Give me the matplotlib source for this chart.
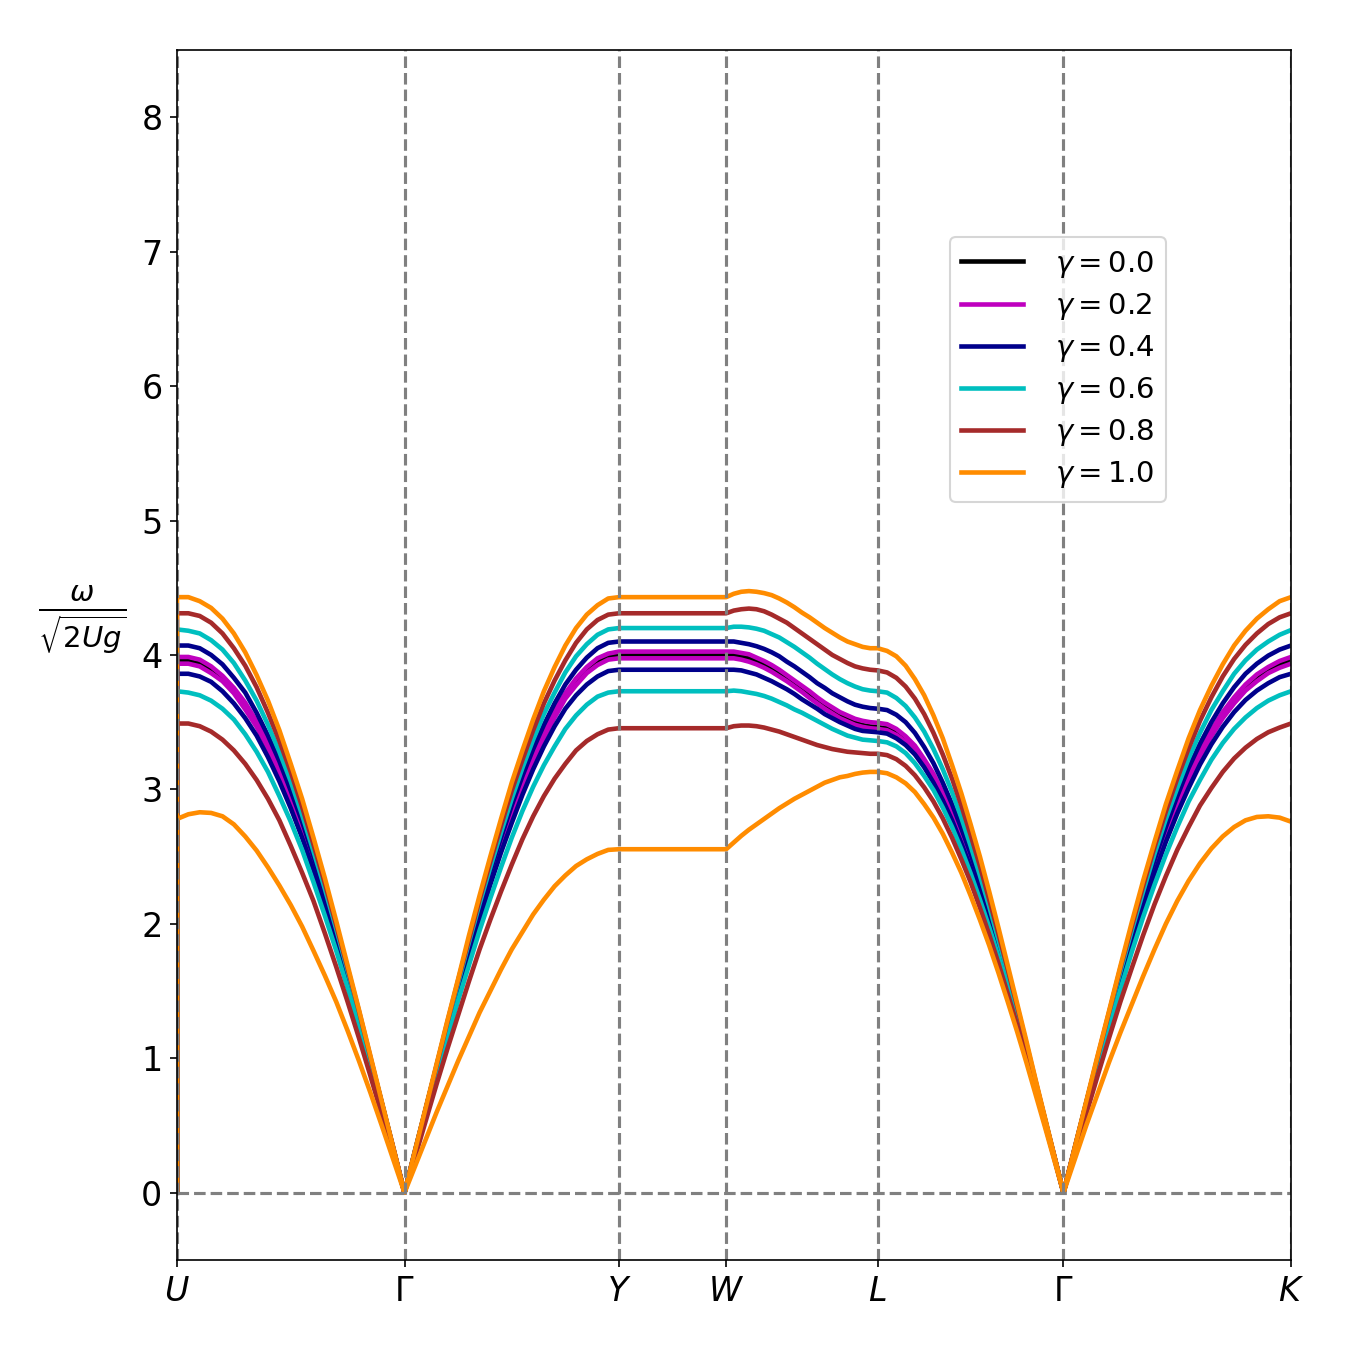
import matplotlib
matplotlib.use('Agg')
from matplotlib import pyplot as plt
import numpy as np

# high-symmetry points and segment lengths along the k-path (2pi/a units)
point_labels = [r'$U$', r'$\Gamma$', r'$Y$', r'$W$', r'$L$', r'$\Gamma$', r'$K$']
seg_lengths = [1.061, 1.000, 0.500, 0.707, 0.866, 1.061]
t = [0.00, 0.05, 0.10, 0.15, 0.20, 0.25, 0.30, 0.35, 0.40, 0.45, 0.50,
     0.55, 0.60, 0.65, 0.70, 0.75, 0.80, 0.85, 0.90, 0.95, 1.00]

gammas = ['0.0', '0.2', '0.4', '0.6', '0.8', '1.0']
colors = ['k', 'm', 'darkblue', 'c', 'brown', 'darkorange']

# values, order per curve:
# [start] + U-G(21) + G-Y(20) + W(1) + W-L(20) + L-G(20) + G-K(20)
w00 = [0.0,
       3.957, 3.955, 3.934, 3.890, 3.823, 3.733, 3.620, 3.482, 3.321, 3.137, 2.930,
       2.703, 2.456, 2.191, 1.909, 1.614, 1.306, 0.988, 0.663, 0.333, 0.0,
       0.314, 0.626, 0.934, 1.236, 1.531, 1.816, 2.090, 2.351, 2.598, 2.828,
       3.042, 3.236, 3.411, 3.564, 3.696, 3.804, 3.889, 3.951, 3.988, 4.000,
       4.000,
       3.997, 3.988, 3.973, 3.952, 3.926, 3.896, 3.861, 3.823, 3.783, 3.742,
       3.700, 3.658, 3.618, 3.581, 3.548, 3.519, 3.495, 3.478, 3.468, 3.464,
       3.453, 3.421, 3.368, 3.295, 3.200, 3.086, 2.954, 2.802, 2.634, 2.449,
       2.250, 2.036, 1.810, 1.573, 1.326, 1.070, 0.809, 0.542, 0.272, 0.0,
       0.333, 0.663, 0.987, 1.302, 1.607, 1.898, 2.174, 2.432, 2.672, 2.890,
       3.088, 3.264, 3.418, 3.550, 3.662, 3.754, 3.827, 3.884, 3.927, 3.957]

w02_up = [0.0,
          3.985, 3.985, 3.965, 3.915, 3.845, 3.755, 3.645, 3.505, 3.345, 3.155, 2.945,
          2.71, 2.47, 2.20, 1.91, 1.62, 1.31, 0.99, 0.66, 0.33, 0.0,
          0.31, 0.63, 0.94, 1.24, 1.53, 1.82, 2.10, 2.36, 2.61, 2.84,
          3.05, 3.255, 3.425, 3.585, 3.715, 3.825, 3.91, 3.975, 4.01, 4.025,
          4.025,
          4.025, 4.015, 4.005, 3.98, 3.955, 3.925, 3.89, 3.85, 3.81, 3.77,
          3.73, 3.685, 3.645, 3.61, 3.575, 3.55, 3.525, 3.51, 3.50, 3.495,
          3.485, 3.45, 3.395, 3.325, 3.225, 3.115, 2.975, 2.82, 2.65, 2.46,
          2.26, 2.045, 1.82, 1.58, 1.33, 1.07, 0.81, 0.54, 0.27, 0.0,
          0.33, 0.66, 0.99, 1.30, 1.61, 1.90, 2.18, 2.44, 2.68, 2.90,
          3.10, 3.285, 3.44, 3.575, 3.685, 3.78, 3.855, 3.91, 3.955, 3.985]
w02_lo = [0.0,
          3.935, 3.935, 3.915, 3.865, 3.805, 3.715, 3.595, 3.465, 3.305, 3.115, 2.915,
          2.69, 2.44, 2.18, 1.90, 1.61, 1.30, 0.98, 0.66, 0.33, 0.0,
          0.31, 0.62, 0.93, 1.23, 1.52, 1.81, 2.08, 2.34, 2.58, 2.81,
          3.03, 3.215, 3.385, 3.535, 3.675, 3.775, 3.865, 3.925, 3.965, 3.975,
          3.975,
          3.975, 3.965, 3.95, 3.93, 3.905, 3.875, 3.84, 3.805, 3.765, 3.725,
          3.68, 3.64, 3.60, 3.565, 3.53, 3.505, 3.48, 3.465, 3.455, 3.45,
          3.44, 3.405, 3.355, 3.28, 3.185, 3.075, 2.94, 2.795, 2.63, 2.44,
          2.245, 2.03, 1.805, 1.57, 1.32, 1.07, 0.81, 0.54, 0.27, 0.0,
          0.33, 0.66, 0.98, 1.30, 1.60, 1.89, 2.165, 2.42, 2.66, 2.88,
          3.075, 3.245, 3.395, 3.53, 3.64, 3.735, 3.805, 3.865, 3.905, 3.935]

w04_up = [0.0,
          4.07, 4.07, 4.05, 4.00, 3.93, 3.83, 3.72, 3.57, 3.40, 3.21, 2.99,
          2.76, 2.50, 2.23, 1.94, 1.63, 1.32, 0.995, 0.67, 0.33, 0.0,
          0.31, 0.63, 0.94, 1.25, 1.55, 1.84, 2.12, 2.39, 2.64, 2.88,
          3.10, 3.30, 3.48, 3.64, 3.78, 3.89, 3.98, 4.05, 4.09, 4.10,
          4.10,
          4.10, 4.09, 4.08, 4.065, 4.045, 4.02, 3.99, 3.95, 3.915, 3.875,
          3.835, 3.79, 3.755, 3.715, 3.685, 3.655, 3.63, 3.615, 3.605, 3.60,
          3.59, 3.555, 3.50, 3.42, 3.315, 3.195, 3.05, 2.89, 2.71, 2.52,
          2.31, 2.08, 1.85, 1.60, 1.345, 1.08, 0.82, 0.545, 0.27, 0.0,
          0.33, 0.67, 0.99, 1.31, 1.63, 1.92, 2.21, 2.475, 2.72, 2.95,
          3.16, 3.34, 3.50, 3.64, 3.76, 3.86, 3.935, 3.995, 4.04, 4.07]
w04_lo = [0.0,
          3.86, 3.86, 3.84, 3.80, 3.73, 3.64, 3.53, 3.40, 3.24, 3.06, 2.86,
          2.64, 2.40, 2.14, 1.86, 1.58, 1.27, 0.96, 0.65, 0.32, 0.0,
          0.31, 0.61, 0.91, 1.20, 1.49, 1.77, 2.03, 2.29, 2.53, 2.75,
          2.96, 3.15, 3.32, 3.47, 3.60, 3.70, 3.78, 3.84, 3.88, 3.89,
          3.89,
          3.89, 3.885, 3.87, 3.855, 3.83, 3.805, 3.775, 3.745, 3.71, 3.67,
          3.635, 3.60, 3.56, 3.53, 3.50, 3.475, 3.45, 3.435, 3.43, 3.425,
          3.415, 3.38, 3.33, 3.26, 3.165, 3.05, 2.92, 2.77, 2.60, 2.42,
          2.225, 2.01, 1.79, 1.555, 1.31, 1.06, 0.80, 0.535, 0.27, 0.0,
          0.325, 0.65, 0.96, 1.27, 1.57, 1.85, 2.12, 2.375, 2.61, 2.82,
          3.01, 3.185, 3.335, 3.465, 3.575, 3.665, 3.735, 3.79, 3.835, 3.86]

w06_up = [0.0,
          4.19, 4.18, 4.16, 4.11, 4.04, 3.94, 3.81, 3.66, 3.48, 3.28, 3.06,
          2.81, 2.54, 2.26, 1.96, 1.65, 1.33, 1.00, 0.67, 0.335, 0.0,
          0.32, 0.63, 0.95, 1.26, 1.56, 1.86, 2.15, 2.42, 2.68, 2.93,
          3.16, 3.37, 3.56, 3.72, 3.87, 3.99, 4.08, 4.15, 4.19, 4.20,
          4.20,
          4.21, 4.21, 4.205, 4.195, 4.18, 4.155, 4.13, 4.095, 4.06, 4.02,
          3.98, 3.935, 3.895, 3.855, 3.82, 3.79, 3.765, 3.745, 3.735, 3.73,
          3.72, 3.68, 3.62, 3.535, 3.43, 3.30, 3.15, 2.98, 2.79, 2.58,
          2.36, 2.13, 1.88, 1.63, 1.365, 1.095, 0.82, 0.55, 0.27, 0.0,
          0.335, 0.67, 1.00, 1.33, 1.645, 1.95, 2.24, 2.52, 2.78, 3.01,
          3.23, 3.42, 3.59, 3.73, 3.86, 3.96, 4.04, 4.10, 4.15, 4.185]
w06_lo = [0.0,
          3.73, 3.72, 3.70, 3.66, 3.60, 3.52, 3.41, 3.28, 3.13, 2.95, 2.76,
          2.55, 2.31, 2.06, 1.80, 1.52, 1.23, 0.93, 0.62, 0.31, 0.0,
          0.29, 0.58, 0.87, 1.15, 1.43, 1.69, 1.95, 2.19, 2.42, 2.64,
          2.84, 3.02, 3.18, 3.32, 3.45, 3.55, 3.63, 3.69, 3.72, 3.73,
          3.73,
          3.735, 3.73, 3.72, 3.71, 3.695, 3.675, 3.65, 3.625, 3.595, 3.57,
          3.54, 3.51, 3.48, 3.45, 3.425, 3.40, 3.385, 3.37, 3.365, 3.36,
          3.35, 3.32, 3.27, 3.195, 3.10, 2.995, 2.865, 2.72, 2.555, 2.375,
          2.18, 1.975, 1.755, 1.525, 1.285, 1.04, 0.785, 0.525, 0.265, 0.0,
          0.31, 0.62, 0.93, 1.23, 1.51, 1.79, 2.05, 2.29, 2.515, 2.72,
          2.91, 3.07, 3.22, 3.345, 3.45, 3.535, 3.605, 3.66, 3.70, 3.73]

w08_up = [0.0,
          4.31, 4.31, 4.29, 4.24, 4.16, 4.05, 3.92, 3.76, 3.57, 3.36, 3.13,
          2.87, 2.59, 2.30, 1.99, 1.67, 1.35, 1.01, 0.67, 0.34, 0.0,
          0.32, 0.63, 0.95, 1.27, 1.58, 1.88, 2.18, 2.46, 2.73, 2.99,
          3.22, 3.44, 3.64, 3.81, 3.96, 4.09, 4.19, 4.26, 4.30, 4.31,
          4.31,
          4.33, 4.34, 4.345, 4.34, 4.325, 4.30, 4.27, 4.24, 4.20, 4.16,
          4.12, 4.08, 4.04, 4.00, 3.97, 3.94, 3.915, 3.90, 3.89, 3.885,
          3.87, 3.83, 3.765, 3.675, 3.56, 3.42, 3.26, 3.08, 2.88, 2.66,
          2.43, 2.18, 1.925, 1.66, 1.39, 1.11, 0.83, 0.55, 0.275, 0.0,
          0.34, 0.67, 1.01, 1.34, 1.67, 1.98, 2.28, 2.57, 2.835, 3.08,
          3.305, 3.51, 3.685, 3.84, 3.97, 4.075, 4.16, 4.23, 4.28, 4.31]
w08_lo = [0.0,
          3.49, 3.49, 3.47, 3.43, 3.37, 3.29, 3.19, 3.07, 2.93, 2.77, 2.58,
          2.38, 2.17, 1.93, 1.68, 1.42, 1.15, 0.87, 0.58, 0.29, 0.0,
          0.27, 0.54, 0.81, 1.07, 1.32, 1.57, 1.81, 2.03, 2.24, 2.44,
          2.63, 2.80, 2.95, 3.08, 3.19, 3.29, 3.36, 3.41, 3.445, 3.455,
          3.455,
          3.47, 3.475, 3.475, 3.47, 3.46, 3.445, 3.43, 3.41, 3.39, 3.37,
          3.35, 3.33, 3.315, 3.30, 3.29, 3.28, 3.275, 3.27, 3.265, 3.265,
          3.255, 3.225, 3.175, 3.105, 3.015, 2.91, 2.785, 2.64, 2.48, 2.31,
          2.12, 1.92, 1.705, 1.48, 1.25, 1.01, 0.76, 0.51, 0.255, 0.0,
          0.29, 0.585, 0.87, 1.15, 1.42, 1.67, 1.915, 2.145, 2.355, 2.55,
          2.72, 2.88, 3.01, 3.13, 3.23, 3.31, 3.375, 3.425, 3.46, 3.49]

w10_up = [0.0,
          4.43, 4.43, 4.40, 4.35, 4.27, 4.16, 4.02, 3.85, 3.66, 3.44, 3.19,
          2.93, 2.64, 2.34, 2.02, 1.69, 1.36, 1.02, 0.68, 0.34, 0.0,
          0.32, 0.64, 0.96, 1.28, 1.59, 1.91, 2.21, 2.50, 2.78, 3.05,
          3.29, 3.52, 3.73, 3.91, 4.07, 4.20, 4.30, 4.37, 4.42, 4.43,
          4.43,
          4.455, 4.47, 4.475, 4.47, 4.46, 4.445, 4.42, 4.39, 4.355, 4.315,
          4.28, 4.24, 4.20, 4.165, 4.13, 4.10, 4.08, 4.06, 4.05, 4.05,
          4.03, 3.99, 3.92, 3.82, 3.70, 3.55, 3.38, 3.18, 2.97, 2.74,
          2.50, 2.24, 1.97, 1.69, 1.41, 1.13, 0.84, 0.56, 0.28, 0.0,
          0.34, 0.68, 1.02, 1.35, 1.685, 2.01, 2.32, 2.61, 2.89, 3.14,
          3.38, 3.59, 3.77, 3.93, 4.07, 4.18, 4.27, 4.34, 4.40, 4.43]
w10_lo = [0.0,
          2.78, 2.815, 2.83, 2.825, 2.80, 2.74, 2.65, 2.545, 2.42, 2.285, 2.14,
          1.98, 1.80, 1.615, 1.42, 1.205, 0.98, 0.745, 0.50, 0.25, 0.0,
          0.20, 0.40, 0.60, 0.79, 0.98, 1.16, 1.34, 1.50, 1.66, 1.81,
          1.94, 2.07, 2.18, 2.28, 2.36, 2.43, 2.48, 2.52, 2.55, 2.555,
          2.555,
          2.605, 2.655, 2.70, 2.74, 2.78, 2.82, 2.86, 2.895, 2.93, 2.96,
          2.99, 3.02, 3.05, 3.07, 3.09, 3.10, 3.115, 3.125, 3.13, 3.13,
          3.12, 3.09, 3.045, 2.98, 2.89, 2.79, 2.67, 2.53, 2.38, 2.21,
          2.03, 1.84, 1.635, 1.42, 1.20, 0.97, 0.73, 0.49, 0.245, 0.0,
          0.25, 0.50, 0.735, 0.97, 1.19, 1.40, 1.61, 1.81, 2.00, 2.17,
          2.32, 2.45, 2.56, 2.65, 2.72, 2.77, 2.795, 2.80, 2.79, 2.76]

branches = [[w00], [w02_up, w02_lo], [w04_up, w04_lo], [w06_up, w06_lo],
            [w08_up, w08_lo], [w10_up, w10_lo]]

# x positions of the samples along the path
nodes = np.concatenate([[0.0], np.cumsum(seg_lengths)])
tt = np.array(t)
x = np.concatenate([[0.0],
                    nodes[0] + tt * seg_lengths[0],
                    nodes[1] + tt[1:] * seg_lengths[1],
                    [nodes[3]],
                    nodes[3] + tt[1:] * seg_lengths[3],
                    nodes[4] + tt[1:] * seg_lengths[4],
                    nodes[5] + tt[1:] * seg_lengths[5]])

fig = plt.figure(figsize=(9, 9), dpi=150)
ax = fig.add_axes([0.1311, 0.0667, 0.8252, 0.8963])

for g, col, curves in zip(gammas, colors, branches):
    for i, w in enumerate(curves):
        ax.plot(x, w, color=col, lw=2.2,
                label=r'$\gamma = %s$' % g if i == 0 else None)

for xv in nodes:
    ax.axvline(xv, color='gray', ls='--', lw=1.5)
ax.axhline(0, color='gray', ls='--', lw=1.5)

ax.set_xlim(nodes[0], nodes[-1])
ax.set_ylim(-0.5, 8.5)
ax.set_xticks(nodes)
ax.set_xticklabels(point_labels)
ax.set_yticks(range(0, 9))
ax.tick_params(labelsize=16)

ax.set_ylabel(r'$\frac{\omega}{\sqrt{2Ug}}$', rotation=0, fontsize=20,
              ha='center', va='center')
ax.yaxis.set_label_coords(-0.085, 0.53)

ax.legend(loc='upper right', bbox_to_anchor=(0.901, 0.8575), fontsize=14,
          handlelength=2.1, handletextpad=1.1, labelspacing=0.38)

fig.savefig('out.png', dpi=150)
